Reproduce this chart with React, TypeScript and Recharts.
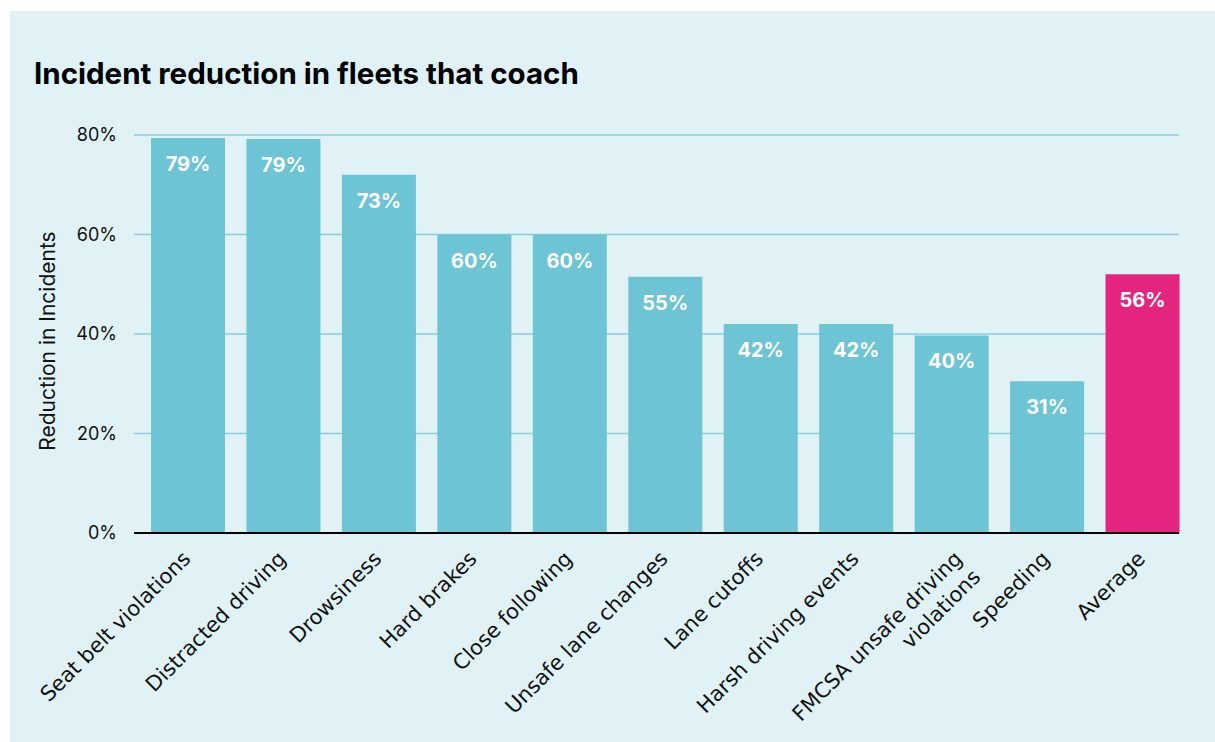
import { BarChart, Bar, XAxis, YAxis, CartesianGrid, Cell, LabelList, ReferenceLine } from 'recharts'

const categories = [
  'Seat belt violations',
  'Distracted driving',
  'Drowsiness',
  'Hard brakes',
  'Close following',
  'Unsafe lane changes',
  'Lane cutoffs',
  'Harsh driving events',
  'FMCSA unsafe driving violations',
  'Speeding',
  'Average',
]
// bar heights as drawn in the picture
const reductions = [79.4, 79.2, 72, 60, 60, 51.5, 42, 42, 39.7, 30.5, 52]
// printed value labels
const valueLabels = ['79%', '79%', '73%', '60%', '60%', '55%', '42%', '42%', '40%', '31%', '56%']
const yTicks = [0, 20, 40, 60, 80]
// label lines for wrapped category names
const wrappedLabels: Record<string, string[]> = {
  'FMCSA unsafe driving violations': ['FMCSA unsafe driving', 'violations'],
}

const data = categories.map((name, i) => ({ name, value: reductions[i], label: valueLabels[i] }))

const BAR = '#6dc4d4'
const HIGHLIGHT = '#e5247f'
const GRID = '#86cfdb'
// grid and baseline stop short of the padded plot edge
const LINE_TRIM = 11

function CategoryTick({ x, y, payload }: any) {
  const lines = wrappedLabels[payload.value] || [payload.value]
  const shift = lines.length > 1 ? 8 : 0
  return (
    <g transform={`translate(${x + 4 + shift},${y + 19}) rotate(-45)`}>
      <text textAnchor="end" fill="#111" fontSize={21} fontFamily="DejaVu Sans">
        {lines.map((l, i) => (
          <tspan key={i} x={0} dy={i === 0 ? 0 : 26}>
            {l}
          </tspan>
        ))}
      </text>
    </g>
  )
}

function ValueLabel({ x, y, width, value }: any) {
  return (
    <text
      x={x + width / 2}
      y={y + 26}
      fill="#fff"
      textAnchor="middle"
      dominantBaseline="central"
      fontSize={20}
      fontWeight={700}
      fontFamily="Inter"
    >
      {value}
    </text>
  )
}

const gridLine = (p: any) => (
  <line key={p.key} x1={p.x1} y1={p.y1} x2={p.x2 - LINE_TRIM} y2={p.y2} stroke={GRID} strokeWidth={1.5} />
)

const baseLine = (p: any) => (
  <line x1={p.x1} y1={p.y1} x2={p.x2 - LINE_TRIM} y2={p.y2} stroke="#000" strokeWidth={2} />
)

export default function App() {
  return (
    <div style={{ position: 'absolute', left: 0, top: 0, width: 1215, height: 742, background: '#fff', overflow: 'hidden' }}>
      <div style={{ position: 'absolute', left: 10, top: 11, right: 0, bottom: 0, background: '#e0f2f5' }} />
      <div
        style={{
          position: 'absolute',
          left: 34,
          top: 59,
          fontFamily: 'Inter',
          fontWeight: 700,
          fontSize: 29.5,
          lineHeight: 1,
          color: '#000',
          whiteSpace: 'nowrap',
        }}
      >
        Incident reduction in fleets that coach
      </div>
      <div
        style={{
          position: 'absolute',
          left: 47,
          top: 341,
          transform: 'translate(-50%, -50%) rotate(-90deg)',
          fontFamily: 'Inter',
          fontSize: 21,
          color: '#111',
          whiteSpace: 'nowrap',
        }}
      >
        Reduction in Incidents
      </div>
      <div style={{ position: 'absolute', left: 0, top: 0 }}>
        <BarChart width={1215} height={742} data={data} margin={{ top: 135, right: 25, left: 74, bottom: 179 }}>
          <CartesianGrid vertical={false} horizontal={gridLine} />
          <XAxis
            dataKey="name"
            height={30}
            interval={0}
            padding={{ left: 6, right: 0 }}
            tickLine={false}
            axisLine={false}
            tick={<CategoryTick />}
          />
          <YAxis
            width={60}
            domain={[0, 80]}
            ticks={yTicks}
            tickFormatter={(v) => `${v}%`}
            axisLine={false}
            tickLine={false}
            tickMargin={11}
            tick={{ fill: '#111', fontSize: 18, fontFamily: 'Inter' }}
          />
          <Bar dataKey="value" barSize={74} isAnimationActive={false}>
            {data.map((d) => (
              <Cell key={d.name} fill={d.name === 'Average' ? HIGHLIGHT : BAR} />
            ))}
            <LabelList dataKey="label" content={<ValueLabel />} />
          </Bar>
          <ReferenceLine y={0} shape={baseLine} />
        </BarChart>
      </div>
    </div>
  )
}
